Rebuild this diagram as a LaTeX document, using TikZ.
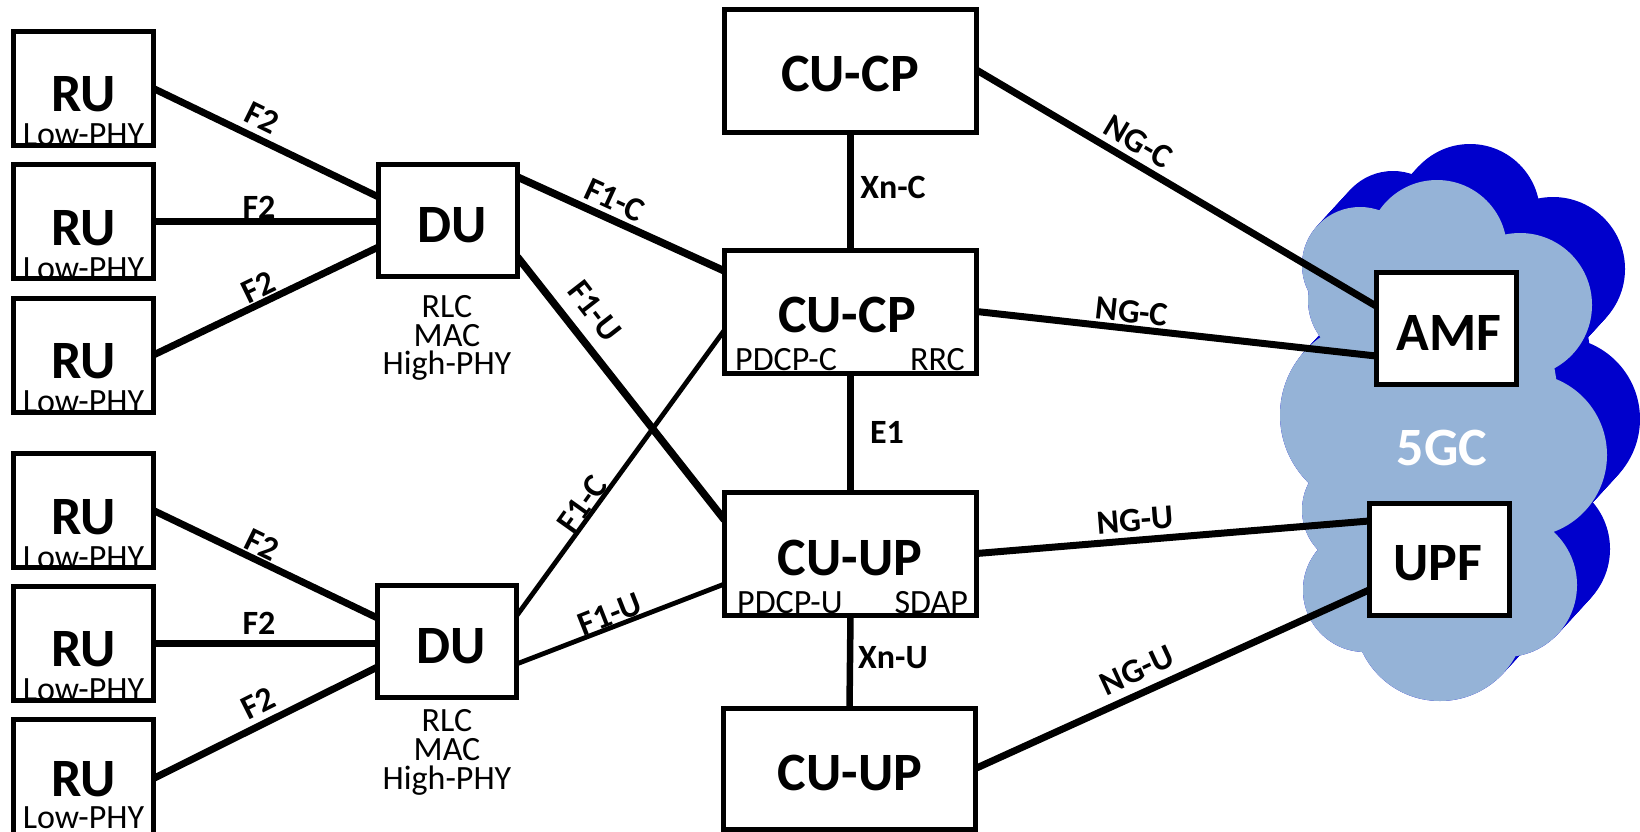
\documentclass[tikz,border=0pt]{standalone}
\usepackage{fontspec}
\setmainfont{Carlito}
\usetikzlibrary{calc}
\pgfdeclarelayer{bg}
\pgfdeclarelayer{lines}
\pgfsetlayers{bg,lines,main}
\definecolor{cloudfront}{HTML}{95B3D7}
\definecolor{cloudback}{HTML}{0000CC}
\newcommand{\cloudblob}[1]{\fill[#1]
  (1360,265) circle[radius=58]
  (1370,300) circle[radius=62]
  (1437,250) circle[radius=70]
  (1520,305) circle[radius=72]
  (1525,455) circle[radius=82]
  (1505,585) circle[radius=72]
  (1440,615) circle[radius=86]
  (1365,590) circle[radius=62]
  (1360,510) circle[radius=58]
  (1375,415) circle[radius=95]
  (1445,430) ellipse[x radius=115, y radius=200];}
\begin{document}
\begin{tikzpicture}[x=1pt,y=-1pt,
  box/.style={draw=black, line width=5pt, fill=white, inner sep=0pt, outer sep=0pt},
  rubox/.style={box, minimum width=140pt, minimum height=114pt},
  dubox/.style={box, minimum width=139pt, minimum height=112pt},
  cubox/.style={box, minimum width=252pt, minimum height=123pt},
  cnbox/.style={box, minimum width=140pt, minimum height=112pt},
  big/.style={font=\fontsize{54}{60}\selectfont\bfseries, inner sep=0pt},
  small/.style={font=\fontsize{34}{40}\selectfont, inner sep=0pt},
  lbl/.style={font=\fontsize{34}{40}\selectfont\bfseries, inner sep=0pt},
  link/.style={line width=7pt},
  thicklink/.style={line width=7.5pt},
  lightlink/.style={line width=4.8pt},
  vlink/.style={line width=6.5pt},
]
\useasboundingbox (0,0) rectangle (1640,832);

% ---- cloud (5GC)
\begin{pgfonlayer}{bg}
\foreach \k in {0,...,16}{
  \cloudblob{cloudback, shift={({33-\k*33/16},{-36+\k*36/16})}}
}
\cloudblob{cloudfront}
\end{pgfonlayer}
\node[big, text=white, anchor=base] (fivegc) at (1442,465) {5GC};

% ---- RU boxes
\foreach \i/\y in {1/88.5,2/221.5,3/355,4/510.5,5/643}{
  \node[rubox] (ru\i) at (83.5,\y) {};
  \node[big, anchor=base] (rut\i) at (83.5,\y+23.5) {RU};
  \node[small, anchor=base] (rul\i) at (83.5,\y+57.5) {Low-PHY};
}
\node[rubox, minimum height=118pt] (ru6) at (83.5,778.5) {};
\node[big, anchor=base] (rut6) at (83.5,796) {RU};
\node[small, anchor=base] (rul6) at (83.5,828) {Low-PHY};

% ---- DU boxes
\node[dubox] (du1) at (448,220.5) {};
\node[big, anchor=base] (du1t) at (452,242) {DU};
\node[small, anchor=base] (du1a) at (447,317) {RLC};
\node[small, anchor=base] (du1b) at (447,346) {MAC};
\node[small, anchor=base] (du1c) at (447,374) {High-PHY};

\node[dubox] (du2) at (447,641.5) {};
\node[big, anchor=base] (du2t) at (451,663) {DU};
\node[small, anchor=base] (du2a) at (447,731) {RLC};
\node[small, anchor=base] (du2b) at (447,760) {MAC};
\node[small, anchor=base] (du2c) at (447,789) {High-PHY};

% ---- CU boxes
\node[cubox] (cucptop) at (850.5,71.5) {};
\node[big, anchor=base] (cucptopt) at (850,92) {CU-CP};

\node[cubox] (cucp) at (850.5,311.5) {};
\node[big, anchor=base] (cucpt) at (847,332) {CU-CP};
\node[small, anchor=base west] (pdcpc) at (735,370) {PDCP-C};
\node[small, anchor=base east] (rrc) at (965,370) {RRC};

\node[cubox] (cuup) at (850.5,553.5) {};
\node[big, anchor=base] (cuupt) at (850,575) {CU-UP};
\node[small, anchor=base west] (pdcpu) at (737,613) {PDCP-U};
\node[small, anchor=base east] (sdap) at (968,613) {SDAP};

\node[cubox, minimum height=121pt] (cuupbot) at (849.5,768.5) {};
\node[big, anchor=base] (cuupbott) at (850,790) {CU-UP};

% ---- core boxes
\node[cnbox] (amf) at (1446,328) {};
\node[big, anchor=base] (amft) at (1449,350) {AMF};
\node[cnbox] (upf) at (1439,559) {};
\node[big, anchor=base] (upft) at (1438,580) {UPF};

% ---- connectors
\begin{pgfonlayer}{lines}
\draw[link] (ru1.east) -- ($(du1.west)+(0,-23.5)$);
\draw[link] (ru2.east) -- (ru2.east -| du1.west);
\draw[link] (ru3.east) -- ($(du1.west)+(0,26.5)$);
\draw[link] (ru4.east) -- ($(du2.west)+(0,-23.5)$);
\draw[link] (ru5.east) -- (ru5.east -| du2.west);
\draw[link] (ru6.east) -- ($(du2.west)+(0,25.5)$);

\draw[thicklink] ($(du1.east)+(0,-43.5)$) -- ($(cucp.west)+(0,-40.5)$);
\draw[thicklink] ($(du1.east)+(0,36.5)$) -- ($(cuup.west)+(0,-33.5)$);
\draw[lightlink] ($(du2.east)+(0,-25.5)$) -- ($(cucp.west)+(0,18.5)$);
\draw[lightlink] ($(du2.east)+(0,22.5)$) -- ($(cuup.west)+(0,30.5)$);

\draw[vlink] (cucptop.south) -- (cucp.north);
\draw[vlink] (cucp.south) -- (cuup.north);
\draw[vlink] (cuup.south) -- (cuupbot.north);

\draw[link] ($(cucptop.east)+(0,-1.5)$) -- ($(amf.west)+(0,-22)$);
\draw[link] (cucp.east) -- ($(amf.west)+(0,28)$);
\draw[link] (cuup.east) -- ($(upf.west)+(0,-38)$);
\draw[link] (cuupbot.east) -- ($(upf.west)+(0,31)$);
\end{pgfonlayer}

% ---- connector labels
\node[lbl, rotate=-26.2] (lf2a) at (262,118) {F2};
\node[lbl] (lf2b) at (259,207) {F2};
\node[lbl, rotate=25.9] (lf2c) at (258,287) {F2};
\node[lbl, rotate=-26.1] (lf2d) at (262,545) {F2};
\node[lbl] (lf2e) at (259,623) {F2};
\node[lbl, rotate=26.6] (lf2f) at (258,703) {F2};

\node[lbl, rotate=-24.7] (lf1ca) at (615,200) {F1-C};
\node[lbl, rotate=-52.2] (lf1ua) at (595,311) {F1-U};
\node[lbl, rotate=54.5] (lf1cb) at (582,504) {F1-C};
\node[lbl, rotate=21.4] (lf1ub) at (610,614) {F1-U};

\node[lbl] (lxnc) at (893,187) {Xn-C};
\node[lbl] (le1) at (887,432) {E1};
\node[lbl] (lxnu) at (893,658) {Xn-U};

\node[lbl, rotate=-30.7] (lngca) at (1138,142) {NG-C};
\node[lbl, rotate=-6.3] (lngcb) at (1132,312) {NG-C};
\node[lbl, rotate=4.6] (lngua) at (1135,520) {NG-U};
\node[lbl, rotate=24.8] (lngub) at (1137,670) {NG-U};
\end{tikzpicture}
\end{document}
